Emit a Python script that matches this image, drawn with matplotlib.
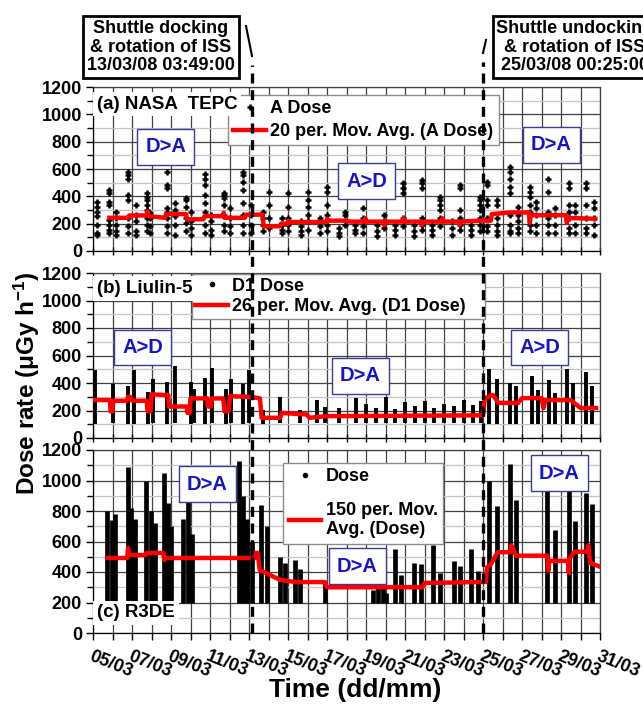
import numpy as np
import matplotlib.pyplot as plt
from matplotlib.lines import Line2D
from matplotlib.transforms import blended_transform_factory

plt.rcParams['font.family'] = ['Liberation Sans', 'DejaVu Sans']
plt.rcParams['font.weight'] = 'bold'
plt.rcParams['mathtext.fontset'] = 'custom'
plt.rcParams['mathtext.rm'] = 'Liberation Sans:bold'
plt.rcParams['mathtext.it'] = 'Liberation Sans:bold'
plt.rcParams['mathtext.bf'] = 'Liberation Sans:bold'

# time axis: days since 05/03 00:00
tick_days = list(range(0, 27, 2))
tick_labels = ['05/03', '07/03', '09/03', '11/03', '13/03', '15/03', '17/03',
               '19/03', '21/03', '23/03', '25/03', '27/03', '29/03', '31/03']
docking_day = 8.159      # 13/03/08 03:49:00
undocking_day = 20.017   # 25/03/08 00:25:00

# (a) NASA TEPC: pass times and dose values in each pass
a_times = [0.19, 0.83, 1.2, 1.8, 2.2, 2.75, 2.92, 3.8, 4.2, 4.77, 5.05, 5.74, 6.07,
           6.7, 7.0, 7.7, 8.1, 8.7, 9.05, 9.7, 10.0, 10.67, 11.0, 11.64, 12.0, 12.6,
           12.9, 13.44, 13.85, 14.55, 14.9, 15.5, 15.9, 16.46, 16.85, 17.4, 17.8,
           18.4, 18.8, 19.4, 19.85, 20.2, 20.7, 21.4, 21.8, 22.4, 22.7, 23.35, 23.7,
           24.4, 24.7, 25.3, 25.7]
a_values = [
    [361, 325, 289, 253, 193, 133, 120],
    [446, 422, 361, 337, 229, 193, 157, 133],
    [289, 241, 193, 145, 120],
    [578, 554, 530, 410, 373, 241, 181, 133],
    [337, 265, 217, 145, 120],
    [422, 398, 373, 337, 301, 241, 193, 145],
    [277, 241, 181, 133],
    [578, 482, 458, 313, 289, 241, 181, 133],
    [349, 301, 253, 193, 120],
    [386, 373, 325, 241, 205, 145],
    [289, 217, 169, 120],
    [566, 530, 482, 410, 349, 289, 193, 133],
    [265, 217, 157, 120],
    [422, 410, 386, 337, 265, 193, 145],
    [313, 241, 181, 133],
    [578, 554, 506, 446, 349, 265, 193, 133],
    [337, 265, 193, 133],
    [289, 241, 193, 145],
    [434, 337, 241, 169],
    [241, 193, 157, 133],
    [422, 325, 241, 193, 145],
    [217, 181, 145, 120],
    [434, 373, 325, 265, 217, 157],
    [241, 181, 133],
    [470, 434, 337, 265, 193, 145],
    [169, 133, 108],
    [289, 265, 193],
    [193, 157, 133],
    [313, 241, 181, 133],
    [193, 145, 108],
    [265, 217, 169],
    [193, 157, 120],
    [494, 458, 422, 241, 181],
    [193, 145, 108],
    [518, 494, 458, 241, 193, 157],
    [193, 157, 120],
    [398, 373, 337, 301, 241, 181],
    [217, 169, 120],
    [482, 458, 301, 241, 193, 157],
    [193, 157, 120],
    [398, 373, 337, 301, 241, 193, 145],
    [506, 482, 373, 337, 241, 181, 145],
    [373, 337, 241, 193, 145, 120],
    [614, 578, 530, 470, 422, 265, 193, 145, 133],
    [325, 265, 217, 169, 133],
    [470, 434, 398, 337, 289, 193, 145],
    [361, 313, 265, 193, 133],
    [530, 434, 289, 241, 193, 133],
    [313, 265, 193, 133],
    [494, 458, 337, 289, 241, 169, 133],
    [337, 289, 193, 133],
    [494, 458, 337, 241, 169, 133],
    [361, 313, 241, 193, 120],
]
a_avg_t = [0.84, 1.81, 1.85, 2.75, 2.78, 2.85, 3.69, 3.75, 4.77, 4.82, 5.66, 5.72,
           6.68, 6.70, 6.75, 7.79, 7.85, 8.70, 8.75, 9.59, 9.65, 10.0, 10.02, 10.1,
           11.98, 12.0, 12.05, 13.0, 13.18, 13.95, 13.97, 14.0, 14.9, 14.92, 14.97,
           15.9, 15.92, 15.97, 16.85, 16.87, 16.92, 17.9, 17.92, 17.97, 18.8, 18.82,
           18.87, 19.85, 20.4, 20.45, 21.4, 22.35, 22.4, 22.45, 23.35, 24.25, 24.3,
           24.35, 24.8, 25.74]
a_avg_v = [243, 243, 260, 260, 290, 255, 243, 270, 270, 232, 232, 255,
           255, 280, 243, 243, 266, 266, 181, 181, 200, 200, 222, 212,
           212, 235, 222, 222, 215, 215, 240, 215, 215, 190, 215,
           215, 240, 215, 215, 190, 215, 215, 240, 215, 215, 190,
           215, 222, 222, 270, 282, 282, 205, 262, 262, 262, 205,
           240, 240, 236]

# (b) Liulin-5: pass times with lowest / highest D1 dose of each pass
b_times = [0.1, 1.0, 1.8, 2.1, 2.8, 3.1, 3.8, 4.2, 5.0, 5.2, 5.75, 6.1, 6.8, 7.1,
           7.7, 8.0, 8.7, 9.6, 10.6, 11.5, 11.9, 12.6, 13.5, 14.0, 14.5, 15.0, 15.5,
           16.0, 16.5, 17.0, 17.5, 18.0, 18.5, 19.0, 19.5, 19.9, 20.3, 20.7, 21.4,
           21.7, 22.5, 22.8, 23.4, 23.7, 24.3, 24.6, 25.3, 25.6]
b_low = [100, 112, 100, 100, 100, 112, 100, 112, 100, 112, 100, 112, 100, 112,
         100, 112, 100, 112, 112, 112, 112, 112, 112, 112, 112, 112, 112,
         112, 112, 112, 112, 112, 112, 112, 112, 112, 100, 100, 100,
         100, 100, 100, 100, 100, 100, 100, 100, 100]
b_high = [498, 393, 381, 498, 334, 428, 405, 521, 405, 358, 440, 510, 358, 428,
          393, 498, 206, 299, 206, 276, 229, 217, 288, 250, 220, 300, 210,
          260, 230, 270, 220, 250, 230, 280, 240, 270, 500, 430, 400,
          380, 450, 350, 420, 330, 500, 400, 480, 380]
b_avg_t = [0.1, 0.87, 0.9, 1.0, 1.04, 1.72, 1.8, 1.9, 2.0, 2.75, 2.8, 2.95, 3.0,
           3.86, 3.9, 4.8, 4.85, 4.95, 5.0, 5.86, 5.9, 6.05, 6.1, 6.68, 6.75,
           6.95, 7.03, 8.05, 8.56, 8.65, 9.6, 9.68, 10.96, 11.1, 11.98, 20.0,
           20.1, 20.5, 20.8, 21.8, 22.0, 23.0, 23.1, 23.2, 24.5, 25.0, 25.8]
b_avg_v = [276, 276, 194, 194, 271, 271, 299, 299, 271, 271, 194, 194, 318,
           311, 229, 229, 182, 182, 288, 288, 229, 229, 288, 288, 194,
           194, 304, 299, 288, 147, 147, 182, 171, 147, 159, 165,
           290, 313, 255, 255, 290, 290, 218, 276, 276, 218, 218]

# (c) R3DE: pass times with lowest / highest dose of each pass
c_times = [0.72, 0.95, 1.12, 1.78, 1.95, 2.15, 2.72, 2.95, 3.2, 3.66, 3.85, 4.0,
           4.62, 4.85, 5.1, 7.48, 7.7, 7.9, 8.15, 8.62, 8.9, 9.58, 9.85, 10.35,
           10.6, 11.9, 14.35, 14.6, 14.85, 15.05, 15.5, 15.8, 16.45, 16.8, 17.45,
           17.8, 18.5, 18.8, 19.4, 19.75, 20.3, 20.7, 21.4, 21.7, 23.3, 23.7,
           24.4, 24.7, 25.3, 25.6]
c_low = [200, 200, 200, 200, 200, 200, 200, 200, 200, 200, 200, 200,
         200, 200, 200, 200, 200, 200, 200, 200, 200, 200, 200, 200,
         200, 200, 200, 200, 200, 200, 200, 200, 200, 200, 200,
         200, 200, 200, 200, 200, 200, 200, 200, 200, 200, 200,
         200, 200, 200, 200]
c_high = [800, 740, 780, 1090, 820, 750, 1000, 800, 720, 1050, 850, 700,
          750, 900, 650, 1130, 900, 750, 600, 840, 700, 500, 460, 480,
          420, 330, 280, 300, 314, 260, 552, 382, 461, 450, 575,
          393, 473, 439, 552, 405, 995, 836, 1109, 870, 939, 677,
          973, 734, 916, 848]
c_avg_t = [0.75, 1.75, 1.8, 1.85, 2.7, 2.75, 3.6, 3.65, 3.7, 8.3, 8.35, 8.45, 8.55,
           9.6, 10.4, 11.9, 12.0, 16.9, 17.0, 20.15, 20.2, 20.4, 20.75, 21.4, 21.45,
           21.7, 23.3, 23.35, 23.4, 24.35, 24.4, 24.45, 24.7, 25.35, 25.4, 25.5,
           26.0]
c_avg_v = [492, 492, 557, 511, 511, 525, 525, 479, 492, 492, 525, 525, 413,
           348, 334, 334, 300, 300, 328, 335, 430, 450, 530, 530, 575,
           507, 507, 409, 473, 473, 393, 492, 533, 533, 575, 459,
           435]


def style_axis(ax, show_xlabels):
    ax.set_xlim(0, 26)
    ax.set_ylim(0, 1200)
    ax.set_xticks(range(0, 27))
    ax.set_yticks(range(0, 1201, 200))
    ax.set_yticks(range(0, 1201, 100), minor=True)
    ax.grid(True, axis='x', which='major', color='#404040', lw=0.9, zorder=0)
    ax.grid(True, axis='y', which='major', color='#404040', lw=0.9, zorder=0)
    ax.grid(True, axis='y', which='minor', color='#c4c4c4', lw=0.9, zorder=0)
    ax.set_axisbelow(True)
    for s in ax.spines.values():
        s.set_color('#404040')
        s.set_linewidth(0.9)
    ax.spines['left'].set_color('black')
    ax.spines['bottom'].set_color('black')
    ax.tick_params(axis='y', which='both', direction='out', length=5, width=1,
                   labelsize=13, pad=3)
    ax.tick_params(axis='y', which='minor', length=4)
    for lab in ax.get_yticklabels():
        lab.set_fontweight('bold')
    if show_xlabels:
        ax.tick_params(axis='x', direction='out', length=5, width=1, pad=6)
        labels = []
        for d in range(0, 27):
            labels.append(tick_labels[tick_days.index(d)] if d in tick_days else '')
        ax.set_xticklabels(labels, rotation=-22, ha='left', va='top',
                           rotation_mode='anchor', fontsize=13, fontweight='bold')
    else:
        ax.tick_params(axis='x', direction='inout', length=6, width=1,
                       labelbottom=False)


def blue_box(ax, x, y, s):
    ax.text(x, y, s, color='#1414c8', fontsize=14.5, fontweight='bold',
            ha='center', va='center', zorder=6,
            bbox=dict(boxstyle='square,pad=0.4', fc='white', ec='#3a3a9c', lw=1))


def panel_label(ax, s, y):
    ax.text(0.008, y, s, transform=ax.transAxes, fontsize=13.5, fontweight='bold',
            ha='left', va='center', zorder=8,
            bbox=dict(boxstyle='square,pad=0.2', fc='white', ec='none'))


def add_legend(ax, handles, labels, anchor, spacing, pad):
    leg = ax.legend(handles, labels, loc='upper left', bbox_to_anchor=anchor,
                    borderaxespad=0, frameon=True, fancybox=False,
                    edgecolor='#8c8c8c', fontsize=13, handlelength=1.8,
                    handletextpad=0.25, borderpad=pad, labelspacing=spacing,
                    framealpha=1)
    leg.set_zorder(7)
    return leg


fig = plt.figure(figsize=(6.43, 7.05), dpi=100)
W, H = 643, 705
x0, x1 = 93, 600


def add_ax(top, bottom):
    return fig.add_axes([x0 / W, 1 - bottom / H, (x1 - x0) / W, (bottom - top) / H])


ax_a = add_ax(87, 251)
ax_b = add_ax(273, 438)
ax_c = add_ax(450, 633)

# panel (a)
pts_x = [t for t, vals in zip(a_times, a_values) for v in vals]
pts_y = [v for vals in a_values for v in vals]
sc_a, = ax_a.plot(pts_x, pts_y, ls='none', marker='+', ms=5, mew=1.8,
                  color='black', zorder=3)
ln_a, = ax_a.plot(a_avg_t, a_avg_v, color='#ff0000', lw=3.2, zorder=4)
style_axis(ax_a, False)
add_legend(ax_a, [sc_a, ln_a], ['A Dose', '20 per. Mov. Avg. (A Dose)'],
           (0.266, 0.951), 0.3, 0.3)
panel_label(ax_a, '(a) NASA  TEPC', 0.895)
blue_box(ax_a, 3.74, 761, 'D>A')
blue_box(ax_a, 14.05, 512, 'A>D')
blue_box(ax_a, 23.5, 776, 'D>A')

# panel (b)
ax_b.vlines(b_times, b_low, b_high, color='black', lw=2.8, zorder=3)
ax_b.plot(b_avg_t, b_avg_v, color='#ff0000', lw=3.2, zorder=4)
style_axis(ax_b, False)
dot = Line2D([], [], ls='none', marker='o', ms=3, color='black')
red = Line2D([], [], color='#ff0000', lw=3.2)
add_legend(ax_b, [dot, red], ['D1 Dose', '26 per. Mov. Avg. (D1 Dose)   '],
           (0.195, 0.994), 0.2, 0.2)
panel_label(ax_b, '(b) Liulin-5', 0.905)
blue_box(ax_b, 2.56, 655, 'A>D')
blue_box(ax_b, 13.7, 451, 'D>A')
blue_box(ax_b, 22.9, 655, 'A>D')

# panel (c)
ax_c.vlines(c_times, c_low, c_high, color='black', lw=3.4, zorder=3)
ax_c.plot(c_avg_t, c_avg_v, color='#ff0000', lw=3.2, zorder=4)
style_axis(ax_c, True)
add_legend(ax_c, [dot, red], ['Dose', '150 per. Mov.\nAvg. (Dose)'],
           (0.375, 0.929), 0.9, 0.3)
panel_label(ax_c, '(c) R3DE', 0.11)
blue_box(ax_c, 5.85, 977, 'D>A')
blue_box(ax_c, 13.54, 439, 'D>A')
blue_box(ax_c, 23.9, 1049, 'D>A')
ax_c.set_xlabel('Time (dd/mm)', fontsize=19, fontweight='bold')
ax_c.xaxis.set_label_coords(0.517, -0.245)

fig.text(27 / W, 1 - 383 / H, 'Dose rate ($\\mu$Gy h$^{-1}$)', rotation=90,
         fontsize=17.5, fontweight='bold', ha='center', va='center')

# dashed event lines through all three panels (x in data units, y in figure units)
event_trans = blended_transform_factory(ax_c.transData, fig.transFigure)
for d, top in [(docking_day, 65), (undocking_day, 62)]:
    fig.add_artist(Line2D([d, d], [1 - 633 / H, 1 - top / H], transform=event_trans,
                          color='black', lw=2.4, linestyle=(0, (3, 2)), zorder=10))

# event boxes
fig.text(161 / W, 1 - 47 / H, 'Shuttle docking\n& rotation of ISS\n13/03/08 03:49:00',
         fontsize=13, fontweight='bold', ha='center', va='center', linespacing=1.15,
         bbox=dict(boxstyle='square,pad=0.2', fc='white', ec='black', lw=2))
fig.text(575 / W, 1 - 47 / H, 'Shuttle undocking\n& rotation of ISS\n25/03/08 00:25:00',
         fontsize=13, fontweight='bold', ha='center', va='center', linespacing=1.15,
         bbox=dict(boxstyle='square,pad=0.2', fc='white', ec='black', lw=2))
fig.add_artist(Line2D([246 / W, 252 / W], [1 - 26 / H, 1 - 56 / H], color='black', lw=1.5))
fig.add_artist(Line2D([483 / W, 486 / W], [1 - 53 / H, 1 - 40 / H], color='black', lw=1.5))

fig.savefig('out.png', dpi=100)
